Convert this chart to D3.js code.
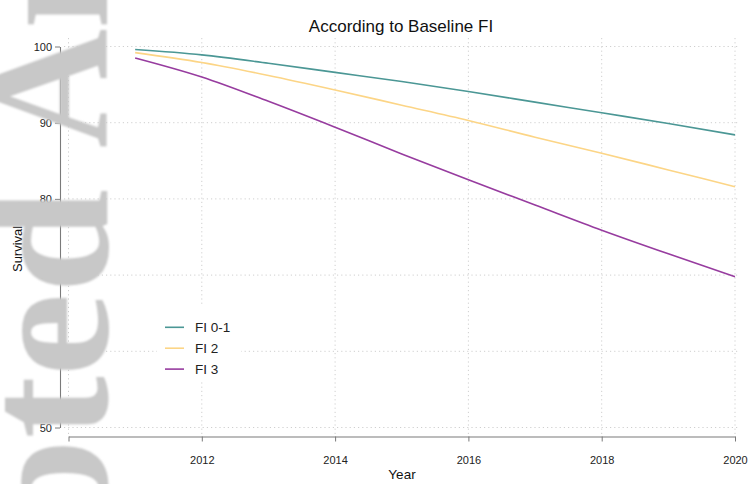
<!DOCTYPE html>
<html>
<head>
<meta charset="utf-8">
<script src="https://cdn.jsdelivr.net/npm/d3@7/dist/d3.min.js"></script>
<style>
  html, body { margin: 0; padding: 0; background: #ffffff; }
  svg { display: block; font-family: "Liberation Sans", Arial, Helvetica, sans-serif; }
</style>
</head>
<body>
<svg id="chart" width="749" height="484"></svg>
<script>
// Survival estimates by baseline frailty index group
const years = [2011, 2012, 2013, 2014, 2015, 2016, 2017, 2018, 2019, 2020];
const fi01 = [99.6, 98.9, 97.8, 96.6, 95.4, 94.1, 92.7, 91.3, 89.9, 88.4];
const fi2  = [99.2, 97.9, 96.2, 94.3, 92.3, 90.3, 88.1, 86.0, 83.8, 81.6];
const fi3  = [98.5, 96.0, 92.8, 89.4, 85.9, 82.5, 79.2, 75.9, 72.8, 69.8];

const seriesNames = ["FI 0-1", "FI 2", "FI 3"];
const seriesValues = [fi01, fi2, fi3];
const seriesColors = ["#4b9795", "#fcd586", "#973c9f"];

const xTicks = [2010, 2012, 2014, 2016, 2018, 2020];
const yTicks = [50, 60, 70, 80, 90, 100];

const svg = d3.select("#chart");

const x = d3.scaleLinear().domain([2010, 2020]).range([68.5, 735]);
const y = d3.scaleLinear().domain([50, 100]).range([427.5, 46.5]);

// dotted grid
const grid = svg.append("g")
  .attr("stroke", "#cfcfcf")
  .attr("stroke-width", 1)
  .attr("stroke-dasharray", "1.2,3");
grid.selectAll("line.h").data(yTicks).join("line")
  .attr("class", "h")
  .attr("x1", 64).attr("x2", 740)
  .attr("y1", d => y(d)).attr("y2", d => y(d));
grid.selectAll("line.v").data(xTicks).join("line")
  .attr("class", "v")
  .attr("x1", d => x(d)).attr("x2", d => x(d))
  .attr("y1", 38).attr("y2", 436);

// axes
const yAxis = d3.axisLeft(y).tickValues(yTicks).tickSize(5).tickSizeOuter(0).tickPadding(3);
const xAxis = d3.axisBottom(x).tickValues(xTicks).tickSize(5).tickSizeOuter(0).tickPadding(15).tickFormat(d3.format("d"));

const gy = svg.append("g").attr("transform", "translate(60,0)").call(yAxis);
const gx = svg.append("g").attr("transform", "translate(0,436.5)").call(xAxis);
[gy, gx].forEach(g => {
  g.select(".domain").attr("stroke", "#7a7a7a").attr("stroke-width", 1.1);
  g.selectAll(".tick line").attr("stroke", "#7a7a7a");
  g.selectAll(".tick text").attr("fill", "#222").style("font-size", "11px")
    .style("font-family", "'Liberation Sans', Arial, sans-serif");
});

// survival curves
const line = d3.line()
  .x((d, i) => x(years[i]))
  .y(d => y(d))
  .curve(d3.curveMonotoneX);

svg.append("g").selectAll("path").data(seriesValues).join("path")
  .attr("d", d => line(d))
  .attr("fill", "none")
  .attr("stroke", (d, i) => seriesColors[i])
  .attr("stroke-width", 1.6);

// legend
const legend = svg.append("g");
legend.append("rect")
  .attr("x", 157).attr("y", 306).attr("width", 84).attr("height", 76)
  .attr("fill", "#ffffff");
seriesNames.forEach((name, i) => {
  const cy = 327.3 + i * 20.9;
  legend.append("line")
    .attr("x1", 165).attr("x2", 184)
    .attr("y1", cy).attr("y2", cy)
    .attr("stroke", seriesColors[i]).attr("stroke-width", 1.6);
  legend.append("text")
    .attr("x", 195).attr("y", cy + 5)
    .attr("fill", "#222")
    .style("font-size", "13.5px")
    .text(name);
});

// titles
svg.append("text")
  .attr("x", 401).attr("y", 31.5)
  .attr("text-anchor", "middle")
  .attr("fill", "#111")
  .style("font-size", "17px")
  .text("According to Baseline FI");

svg.append("text")
  .attr("x", 402).attr("y", 479)
  .attr("text-anchor", "middle")
  .attr("fill", "#111")
  .style("font-size", "13.5px")
  .text("Year");

svg.append("text")
  .attr("transform", "translate(22,237) rotate(-90)")
  .attr("text-anchor", "middle")
  .attr("fill", "#111")
  .style("font-size", "13px")
  .text("Survival (%)");

// publisher stamp along the left edge
const defs = svg.append("defs");
defs.append("filter").attr("id", "soft")
  .append("feGaussianBlur").attr("stdDeviation", 0.8);

const stamp = svg.append("g")
  .attr("fill", "#c8c8c8")
  .attr("filter", "url(#soft)")
  .style("font-family", "'Liberation Serif', 'Times New Roman', serif")
  .style("font-weight", "bold")
  .style("font-size", "180px");
stamp.append("text")
  .attr("transform", "translate(107,189) rotate(-90) scale(1.04,1)")
  .attr("text-anchor", "end")
  .text("Accepted");
stamp.append("text")
  .attr("transform", "translate(107,148) rotate(-90) scale(0.96,1)")
  .attr("text-anchor", "start")
  .style("font-size", "172px")
  .text("Article");
</script>
</body>
</html>
